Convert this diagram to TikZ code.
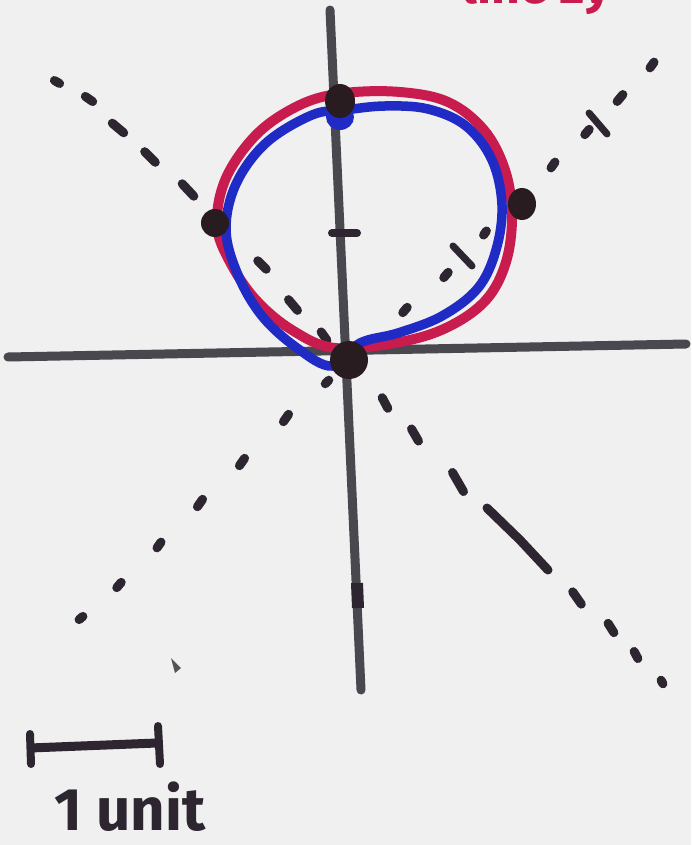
\documentclass[tikz,border=0pt]{standalone}
\usepackage{fontspec}
\setmainfont{Fira Sans}
\usetikzlibrary{shapes.geometric}
\definecolor{paper}{RGB}{239,240,239}
\definecolor{axisgray}{RGB}{72,72,78}
\definecolor{ink}{RGB}{45,38,48}
\definecolor{redink}{RGB}{200,28,78}
\definecolor{blueink}{RGB}{32,42,196}
\definecolor{dotink}{RGB}{40,28,32}
\tikzset{
  axisline/.style={draw=axisgray,line width=9pt,line cap=round},
  dashmark/.style={draw=ink,line width=9pt,line cap=round},
  redcurve/.style={draw=redink,line width=10pt},
  bluecurve/.style={draw=blueink,line width=9.5pt},
  blob/.style={fill=dotink},
}
\newcommand{\dashat}[4]{\draw[dashmark] (#1,#2) ++(#3:-#4/2) -- ++(#3:#4);}
\begin{document}
\begin{tikzpicture}[x=1pt,y=-1pt]
\useasboundingbox (0,0) rectangle (691,845);
\clip (0,0) rectangle (691,845);
\fill[paper] (0,0) rectangle (691,845);
% red text (cut off at top, as in the reference)
\node[anchor=base west,inner sep=0,text=redink,font=\fontsize{50}{50}\selectfont\bfseries] (title) at (462,4) {line 2y};
% axes
\coordinate (vtop) at (330,10);
\coordinate (vbot) at (361,690);
\coordinate (hleft) at (8,357);
\coordinate (hright) at (686,344);
\draw[axisline] (vtop) -- (vbot);
\draw[axisline] (hleft) -- (hright);
% ticks on vertical axis
\draw[draw=ink,line width=8pt,line cap=round] (332,233) -- (357,233);
\draw[draw=ink,line width=12pt] (357,583) -- (358,608);
% dashed line A (upper left to lower right)
\dashat{57}{82}{30}{6}
\dashat{89}{99}{35}{9}
\dashat{118}{128}{40}{15}
\dashat{150}{157}{45}{15}
\dashat{188}{190}{47}{17}
\dashat{262}{265}{45}{12}
\dashat{293}{305}{50}{14}
\dashat{324}{336}{55}{10}
\dashat{385}{403}{62}{12}
\dashat{415}{435}{60}{14}
\dashat{458}{482}{60}{22}
\draw[dashmark] (487,508) -- (520,540) -- (548,570);
\dashat{577}{598}{55}{15}
\dashat{611}{628}{58}{11}
\dashat{636}{655}{62}{8}
\dashat{662}{682}{62}{4}
% dashed line B (lower left to upper right)
\dashat{81}{618}{-40}{5}
\dashat{119}{585}{-50}{7}
\dashat{159}{545}{-55}{7}
\dashat{200}{503}{-55}{9}
\dashat{242}{462}{-55}{9}
\dashat{286}{418}{-55}{9}
\dashat{327}{382}{-45}{5}
\dashat{405}{310}{-50}{7}
\dashat{446}{275}{-50}{7}
\dashat{485}{233}{-55}{5}
\dashat{553}{165}{-55}{7}
\dashat{587}{132}{-50}{7}
\dashat{620}{98}{-50}{9}
\dashat{652}{65}{-55}{7}
\draw[dashmark,line width=7pt] (453,246) -- (472,266);
\draw[dashmark,line width=7pt] (589,113) -- (607,134);
\fill[ink!80] (171,658) -- (181,668) -- (175,673) -- cycle;
% red and blue curves
\draw[redcurve] plot[smooth cycle,tension=0.6] coordinates {
 (335,348) (292,330) (256,300) (230,262) (217,225) (226,178) (258,133) (302,104)
 (345,93) (400,92) (448,102) (484,130) (505,170) (512,215) (506,262) (486,300)
 (448,327) (400,342)};
\draw[bluecurve] plot[smooth cycle,tension=0.6] coordinates {
 (332,366) (297,348) (262,316) (238,275) (226,230) (236,184) (266,143) (312,115)
 (345,110) (385,106) (428,109) (466,126) (492,160) (502,205) (496,250) (478,288)
 (442,316) (398,333) (360,343)};
% dots
\fill[blueink] (340,117) ellipse [x radius=14,y radius=13];
\node[blob,ellipse,minimum width=30pt,minimum height=34pt,inner sep=0] (ptop) at (340,101) {};
\node[blob,circle,minimum size=28pt,inner sep=0] (pleft) at (215,223) {};
\node[blob,ellipse,minimum width=28pt,minimum height=32pt,inner sep=0] (pright) at (522,204) {};
\node[blob,circle,minimum size=38pt,inner sep=0] (porigin) at (349,360) {};
% scale bar
\coordinate (sbl) at (30,748);
\coordinate (sbr) at (157,743);
\draw[draw=ink,line width=9pt] (sbl) -- (sbr);
\draw[draw=ink,line width=8pt,line cap=round] (30,734) -- (31,764);
\draw[draw=ink,line width=8pt,line cap=round] (158,726) -- (160,764);
\node[anchor=base west,inner sep=0,text=ink,font=\fontsize{60}{60}\selectfont\bfseries] (unitlabel) at (54,830) {1 unit};
\end{tikzpicture}
\end{document}
